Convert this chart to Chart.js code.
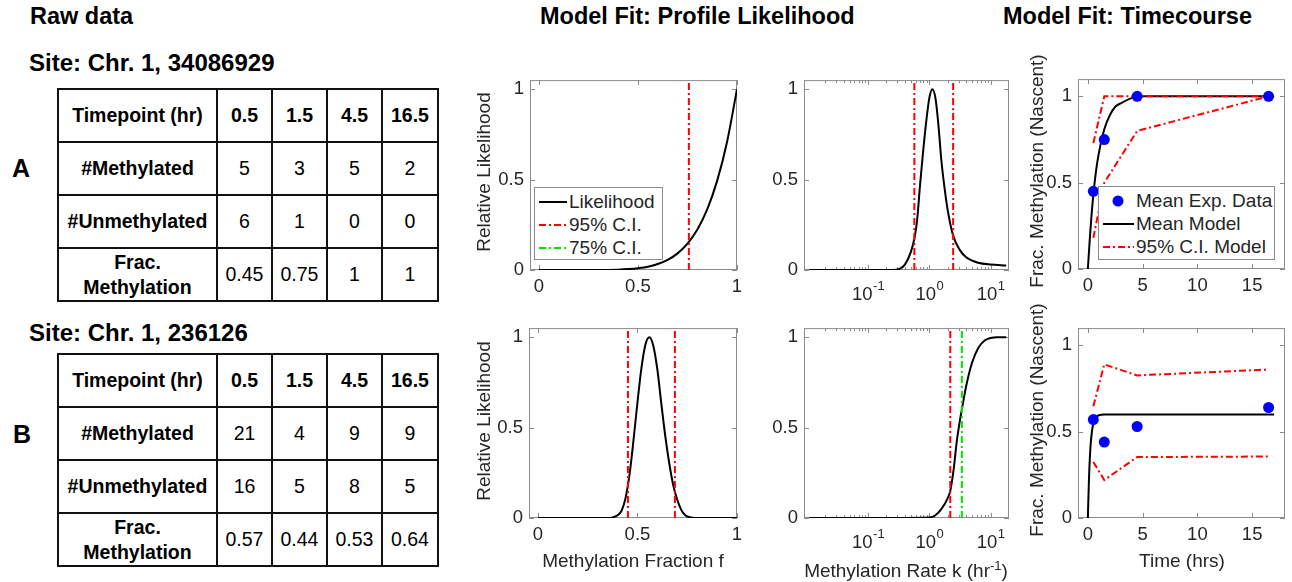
<!DOCTYPE html>
<html lang="en">
<head>
  <meta charset="UTF-8">
  <title>Methylation model fit</title>
  <style>
    body {
      margin: 0;
      width: 1292px;
      height: 582px;
      background: #fff;
      position: relative;
      overflow: hidden;
      font-family: "Liberation Sans", Arial, Helvetica, sans-serif;
      color: #000;
    }
    .txt { position: absolute; white-space: nowrap; line-height: 1; font-weight: bold; }
    .head { font-size: 23.5px; }
    .site { font-size: 24px; }
    .letter { font-size: 25px; }
    table {
      position: absolute;
      left: 57px;
      border-collapse: collapse;
      table-layout: fixed;
      width: 380px;
      font-size: 19.5px;
    }
    tr { height: 53px; }
    td { border: 2px solid #111; text-align: center; padding: 0; line-height: 25px; }
    td.lab { font-weight: bold; }
    canvas { position: absolute; }
    .ttl {
      position: absolute;
      white-space: nowrap;
      line-height: 1;
      font-size: 19px;
      color: #262626;
      transform: translate(-50%, -50%);
      z-index: 2;
    }
    .ttl.rot { transform: translate(-50%, -50%) rotate(-90deg); }
    .legend {
      position: absolute;
      box-sizing: border-box;
      background: #fff;
      border: 1px solid #8a8a8a;
      padding: 2px 0 0 4px;
      z-index: 3;
      font-size: 19px;
      color: #262626;
    }
    .legend div { height: 23px; display: flex; align-items: center; white-space: nowrap; }
    .legend svg { margin-right: 2px; flex: none; }
  </style>
</head>
<body>
  <div class="txt head" style="left:30px; top:5px;">Raw data</div>
  <div class="txt head" style="left:540px; top:5px;">Model Fit: Profile Likelihood</div>
  <div class="txt head" style="left:1003px; top:5px;">Model Fit: Timecourse</div>

  <div class="txt site" style="left:29px; top:51px;">Site: Chr. 1, 34086929</div>
  <div class="txt site" style="left:29px; top:321px;">Site: Chr. 1, 236126</div>
  <div class="txt letter" style="left:12px; top:156px;">A</div>
  <div class="txt letter" style="left:13px; top:422px;">B</div>

  <table id="tableA" style="top:88px;"></table>
  <table id="tableB" style="top:353px;"></table>

  <canvas id="p1"></canvas>
  <canvas id="p2"></canvas>
  <canvas id="p3"></canvas>
  <canvas id="p4"></canvas>
  <canvas id="p5"></canvas>
  <canvas id="p6"></canvas>

  <div class="ttl rot" style="left:483px; top:172px;">Relative Likelihood</div>
  <div class="ttl rot" style="left:483px; top:421px;">Relative Likelihood</div>
  <div class="ttl rot" style="left:1036px; top:171px;">Frac. Methylation (Nascent)</div>
  <div class="ttl rot" style="left:1036px; top:420px;">Frac. Methylation (Nascent)</div>
  <div class="ttl" style="left:633px; top:560px;">Methylation Fraction f</div>
  <div class="ttl" style="left:906px; top:570px;">Methylation Rate k (hr<span style="font-size:13px; position:relative; top:-7px;">-1</span>)</div>
  <div class="ttl" style="left:1182px; top:560px;">Time (hrs)</div>

  <div class="legend" style="left:534px; top:187px; width:129px; height:73px;">
    <div><svg width="28" height="10"><line x1="0" y1="5" x2="28" y2="5" stroke="#000" stroke-width="2"/></svg>Likelihood</div>
    <div><svg width="28" height="10"><line x1="0" y1="5" x2="28" y2="5" stroke="#ff0000" stroke-width="2" stroke-dasharray="7 3 2 3"/></svg>95% C.I.</div>
    <div><svg width="28" height="10"><line x1="0" y1="5" x2="28" y2="5" stroke="#00e600" stroke-width="2" stroke-dasharray="7 3 2 3"/></svg>75% C.I.</div>
  </div>
  <div class="legend" style="left:1098px; top:186px; width:177px; height:74px;">
    <div><svg width="31" height="12"><circle cx="15" cy="6" r="5.5" fill="#0000ff"/></svg>Mean Exp. Data</div>
    <div><svg width="31" height="10"><line x1="0" y1="5" x2="31" y2="5" stroke="#000" stroke-width="2"/></svg>Mean Model</div>
    <div><svg width="31" height="10"><line x1="0" y1="5" x2="31" y2="5" stroke="#ff0000" stroke-width="2" stroke-dasharray="7 3 2 3"/></svg>95% C.I. Model</div>
  </div>

  <script src="https://cdn.jsdelivr.net/npm/chart.js"></script>
  <script>
    // raw counts
    const timepoints = ['0.5', '1.5', '4.5', '16.5'];
    const methA = [5, 3, 5, 2];
    const unmethA = [6, 1, 0, 0];
    const fracA = ['0.45', '0.75', '1', '1'];
    const methB = [21, 4, 9, 9];
    const unmethB = [16, 5, 8, 5];
    const fracB = ['0.57', '0.44', '0.53', '0.64'];

    // profile likelihood over methylation fraction f
    const fGridA = [0, 0.1, 0.2, 0.3, 0.4, 0.45, 0.5, 0.55, 0.6, 0.65, 0.7, 0.75, 0.8, 0.85, 0.9, 0.95, 1];
    const likeFA = [0, 0, 0, 0, 0.002, 0.005, 0.01, 0.018, 0.033, 0.056, 0.092, 0.146, 0.224, 0.336, 0.494, 0.709, 1];
    const ci95FA = [0.757];

    const fGridB = [0, 0.3, 0.35, 0.38, 0.4, 0.42, 0.44, 0.46, 0.48, 0.5, 0.52, 0.54, 0.56, 0.58, 0.6, 0.62, 0.64, 0.66, 0.68, 0.7, 0.72, 0.74, 0.77, 0.8, 1];
    const likeFB = [0, 0, 0, 0.005, 0.015, 0.04, 0.11, 0.24, 0.43, 0.64, 0.83, 0.96, 1, 0.95, 0.82, 0.63, 0.45, 0.3, 0.18, 0.1, 0.045, 0.015, 0.003, 0, 0];
    const ci95FB = [0.452, 0.688];

    // profile likelihood over methylation rate k (hr^-1)
    const kGridA = [0.011, 0.1, 0.25, 0.32, 0.4, 0.5, 0.575, 0.63, 0.71, 0.79, 0.89, 1.0, 1.12, 1.26, 1.41, 1.58, 1.78, 2.0, 2.45, 3.16, 4.0, 6.3, 10, 18];
    const likeKA = [0, 0, 0, 0.005, 0.03, 0.1, 0.18, 0.27, 0.48, 0.65, 0.82, 0.95, 1.0, 0.95, 0.8, 0.6, 0.45, 0.33, 0.19, 0.11, 0.07, 0.04, 0.03, 0.025];
    const ci95KA = [0.57, 2.45];

    const kGridB = [0.011, 0.1, 1.0, 1.26, 1.58, 2.0, 2.2, 2.5, 2.8, 3.16, 3.4, 4.0, 5.0, 6.3, 7.9, 10, 12.6, 18];
    const likeKB = [0, 0, 0.003, 0.015, 0.05, 0.11, 0.15, 0.27, 0.42, 0.54, 0.6, 0.73, 0.86, 0.94, 0.98, 0.995, 1, 1];
    const ci95KB = [2.2];
    const ci75KB = [3.4];

    // timecourse
    const expTimes = [0.5, 1.5, 4.5, 16.5];
    const expA = [0.45, 0.75, 1, 1];
    const ciLowA = [0.18, 0.5, 0.8, 1.0];
    const ciHighA = [0.73, 1.0, 1.0, 1.0];
    const modelTimesA = [0, 0.1, 0.25, 0.5, 0.75, 1, 1.5, 2, 2.5, 3, 4, 5, 8, 17];
    const modelA = [0, 0.1, 0.24, 0.43, 0.57, 0.67, 0.81, 0.89, 0.94, 0.96, 0.99, 1, 1, 1];

    const expB = [0.57, 0.44, 0.53, 0.64];
    const ciLowB = [0.325, 0.22, 0.353, 0.356];
    const ciHighB = [0.647, 0.89, 0.826, 0.86];
    const modelTimesB = [0, 0.1, 0.2, 0.3, 0.5, 0.75, 1, 1.5, 17];
    const modelB = [0, 0.22, 0.37, 0.46, 0.55, 0.585, 0.595, 0.6, 0.6];

    // tick values
    const fTicks = [0, 0.5, 1];
    const likeTicks = [0, 0.5, 1];
    const kTicks = [0.1, 1, 10];
    const timeTicks = [0, 5, 10, 15];

    // ---- tables ----
    function buildTable(id, meth, unmeth, frac) {
      const rows = [
        ['Timepoint (hr)', timepoints, true],
        ['#Methylated', meth, false],
        ['#Unmethylated', unmeth, false],
        ['Frac.<br>Methylation', frac, false]
      ];
      let html = '<colgroup><col style="width:159px"><col style="width:55px"><col style="width:55px"><col style="width:55px"><col style="width:56px"></colgroup>';
      rows.forEach(([lab, vals, bold]) => {
        html += '<tr><td class="lab">' + lab + '</td>' +
          vals.map(v => '<td' + (bold ? ' class="lab"' : '') + '>' + v + '</td>').join('') + '</tr>';
      });
      document.getElementById(id).innerHTML = html;
    }
    buildTable('tableA', methA, unmethA, fracA);
    buildTable('tableB', methB, unmethB, fracB);

    // ---- charts ----
    Chart.defaults.font.family = '"Liberation Sans", Arial, Helvetica, sans-serif';
    Chart.defaults.font.size = 18.5;
    Chart.defaults.color = '#262626';

    const PAD = { l: 40, r: 12, t: 12, b: 34 };
    const FRAME_COLOR = '#8c8c8c';
    const RED_DASH = [7, 3, 2, 3];

    const toPts = (xs, ys) => xs.map((x, i) => ({ x: x, y: ys[i] }));
    const vline = (x, y0, y1) => [{ x: x, y: y0 }, { x: x, y: y1 }];

    // box + inward ticks like a matlab axes, log labels with superscripts
    const framePlugin = {
      id: 'frame',
      beforeDatasetsDraw(chart) {
        const { ctx, chartArea: a, scales } = chart;
        const xs = scales.x, ys = scales.y;
        ctx.save();
        ctx.strokeStyle = FRAME_COLOR;
        ctx.lineWidth = 1;
        ctx.strokeRect(a.left + 0.5, a.top + 0.5, a.width - 1, a.height - 1);
        ctx.beginPath();
        xs.ticks.forEach(t => {
          const p = Math.round(xs.getPixelForValue(t.value)) + 0.5;
          ctx.moveTo(p, a.bottom); ctx.lineTo(p, a.bottom - 5);
          ctx.moveTo(p, a.top); ctx.lineTo(p, a.top + 5);
        });
        ys.ticks.forEach(t => {
          const p = Math.round(ys.getPixelForValue(t.value)) + 0.5;
          ctx.moveTo(a.left, p); ctx.lineTo(a.left + 5, p);
          ctx.moveTo(a.right, p); ctx.lineTo(a.right - 5, p);
        });
        if (xs.type === 'logarithmic') {
          for (let e = -3; e <= 2; e++) {
            for (let m = 2; m <= 9; m++) {
              const v = m * Math.pow(10, e);
              if (v <= xs.min || v >= xs.max) continue;
              const p = Math.round(xs.getPixelForValue(v)) + 0.5;
              ctx.moveTo(p, a.bottom); ctx.lineTo(p, a.bottom - 3);
              ctx.moveTo(p, a.top); ctx.lineTo(p, a.top + 3);
            }
          }
        }
        ctx.stroke();
        ctx.restore();
      },
      afterDraw(chart) {
        const { ctx, chartArea: a, scales } = chart;
        const xs = scales.x;
        if (xs.type !== 'logarithmic') return;
        const big = '18.5px "Liberation Sans", Arial, sans-serif';
        const small = '13px "Liberation Sans", Arial, sans-serif';
        ctx.save();
        ctx.fillStyle = '#262626';
        ctx.textBaseline = 'alphabetic';
        xs.ticks.forEach(t => {
          const sup = String(Math.round(Math.log10(t.value)));
          ctx.font = big;
          const w1 = ctx.measureText('10').width;
          ctx.font = small;
          const w2 = ctx.measureText(sup).width;
          const x0 = xs.getPixelForValue(t.value) - (w1 + w2) / 2;
          ctx.font = big;
          ctx.fillText('10', x0, a.bottom + 30);
          ctx.font = small;
          ctx.fillText(sup, x0 + w1 + 0.5, a.bottom + 20);
        });
        ctx.restore();
      }
    };

    function linAxis(min, max, tickVals, pad) {
      return {
        type: 'linear', min: min, max: max,
        afterBuildTicks: s => { s.ticks = tickVals.map(v => ({ value: v })); },
        ticks: { padding: pad, maxRotation: 0, callback: v => String(v) }
      };
    }
    function logAxis(min, max, tickVals) {
      return {
        type: 'logarithmic', min: min, max: max,
        afterBuildTicks: s => { s.ticks = tickVals.map(v => ({ value: v })); },
        ticks: { display: false }
      };
    }

    function makePanel(id, frame, xCfg, yCfg, datasets) {
      const cv = document.getElementById(id);
      const W = frame.w + PAD.l + PAD.r, H = frame.h + PAD.t + PAD.b;
      cv.width = W; cv.height = H;
      cv.style.left = (frame.l - PAD.l) + 'px';
      cv.style.top = (frame.t - PAD.t) + 'px';
      cv.style.width = W + 'px';
      cv.style.height = H + 'px';
      const common = { grid: { display: false, drawTicks: false }, border: { display: false } };
      return new Chart(cv, {
        type: 'scatter',
        data: { datasets: datasets },
        options: {
          responsive: false,
          animation: false,
          layout: { padding: { top: PAD.t, right: PAD.r, left: 0, bottom: 0 } },
          plugins: { legend: { display: false }, tooltip: { enabled: false } },
          scales: {
            x: Object.assign({ position: 'bottom', afterFit: s => { s.height = PAD.b; } }, common, xCfg),
            y: Object.assign({ position: 'left', afterFit: s => { s.width = PAD.l; } }, common, yCfg)
          }
        },
        plugins: [framePlugin]
      });
    }

    function curve(xs, ys, color) {
      return { data: toPts(xs, ys), showLine: true, borderColor: color, borderWidth: 2,
               pointRadius: 0, cubicInterpolationMode: 'monotone', fill: false };
    }
    function ciLines(vals, color, y0, y1) {
      return vals.map(v => ({ data: vline(v, y0, y1), showLine: true, borderColor: color, borderWidth: 2,
                              borderDash: RED_DASH, pointRadius: 0 }));
    }
    function ciPoly(xs, ys) {
      return { data: toPts(xs, ys), showLine: true, borderColor: '#ff0000', borderWidth: 2,
               borderDash: RED_DASH, pointRadius: 0, tension: 0 };
    }
    function dots(xs, ys) {
      return { data: toPts(xs, ys), showLine: false, pointRadius: 5.5, pointBackgroundColor: '#0000ff',
               pointBorderWidth: 0, pointBorderColor: '#0000ff' };
    }

    const LIKE_MAX = 1.05, FRAC_MAX = 1.1;

    // top row: site A
    makePanel('p1', { l: 530, t: 75, w: 207, h: 195 },
      linAxis(-0.045, 1, fTicks, 6), linAxis(0, LIKE_MAX, likeTicks, 6),
      [].concat(ciLines(ci95FA, '#ff0000', 0, LIKE_MAX), [curve(fGridA, likeFA, '#000')]));

    makePanel('p2', { l: 804, t: 75, w: 205, h: 195 },
      logAxis(0.009, 20, kTicks), linAxis(0, LIKE_MAX, likeTicks, 6),
      [].concat(ciLines(ci95KA, '#ff0000', 0, LIKE_MAX), [curve(kGridA, likeKA, '#000')]));

    makePanel('p3', { l: 1078, t: 74, w: 207, h: 195 },
      linAxis(-0.9, 18, timeTicks, 6), linAxis(0, FRAC_MAX, likeTicks, 6),
      [dots(expTimes, expA), ciPoly(expTimes, ciHighA), ciPoly(expTimes, ciLowA), curve(modelTimesA, modelA, '#000')]);

    // bottom row: site B
    makePanel('p4', { l: 529, t: 323, w: 208, h: 195 },
      linAxis(-0.045, 1, fTicks, 6), linAxis(0, LIKE_MAX, likeTicks, 6),
      [].concat(ciLines(ci95FB, '#ff0000', 0, LIKE_MAX), [curve(fGridB, likeFB, '#000')]));

    makePanel('p5', { l: 804, t: 323, w: 205, h: 195 },
      logAxis(0.009, 20, kTicks), linAxis(0, LIKE_MAX, likeTicks, 6),
      [].concat(ciLines(ci95KB, '#ff0000', 0, LIKE_MAX), ciLines(ci75KB, '#00e600', 0, LIKE_MAX),
                [curve(kGridB, likeKB, '#000')]));

    makePanel('p6', { l: 1078, t: 323, w: 207, h: 195 },
      linAxis(-0.9, 18, timeTicks, 6), linAxis(0, FRAC_MAX, likeTicks, 6),
      [dots(expTimes, expB), ciPoly(expTimes, ciHighB), ciPoly(expTimes, ciLowB), curve(modelTimesB, modelB, '#000')]);
  </script>
</body>
</html>
